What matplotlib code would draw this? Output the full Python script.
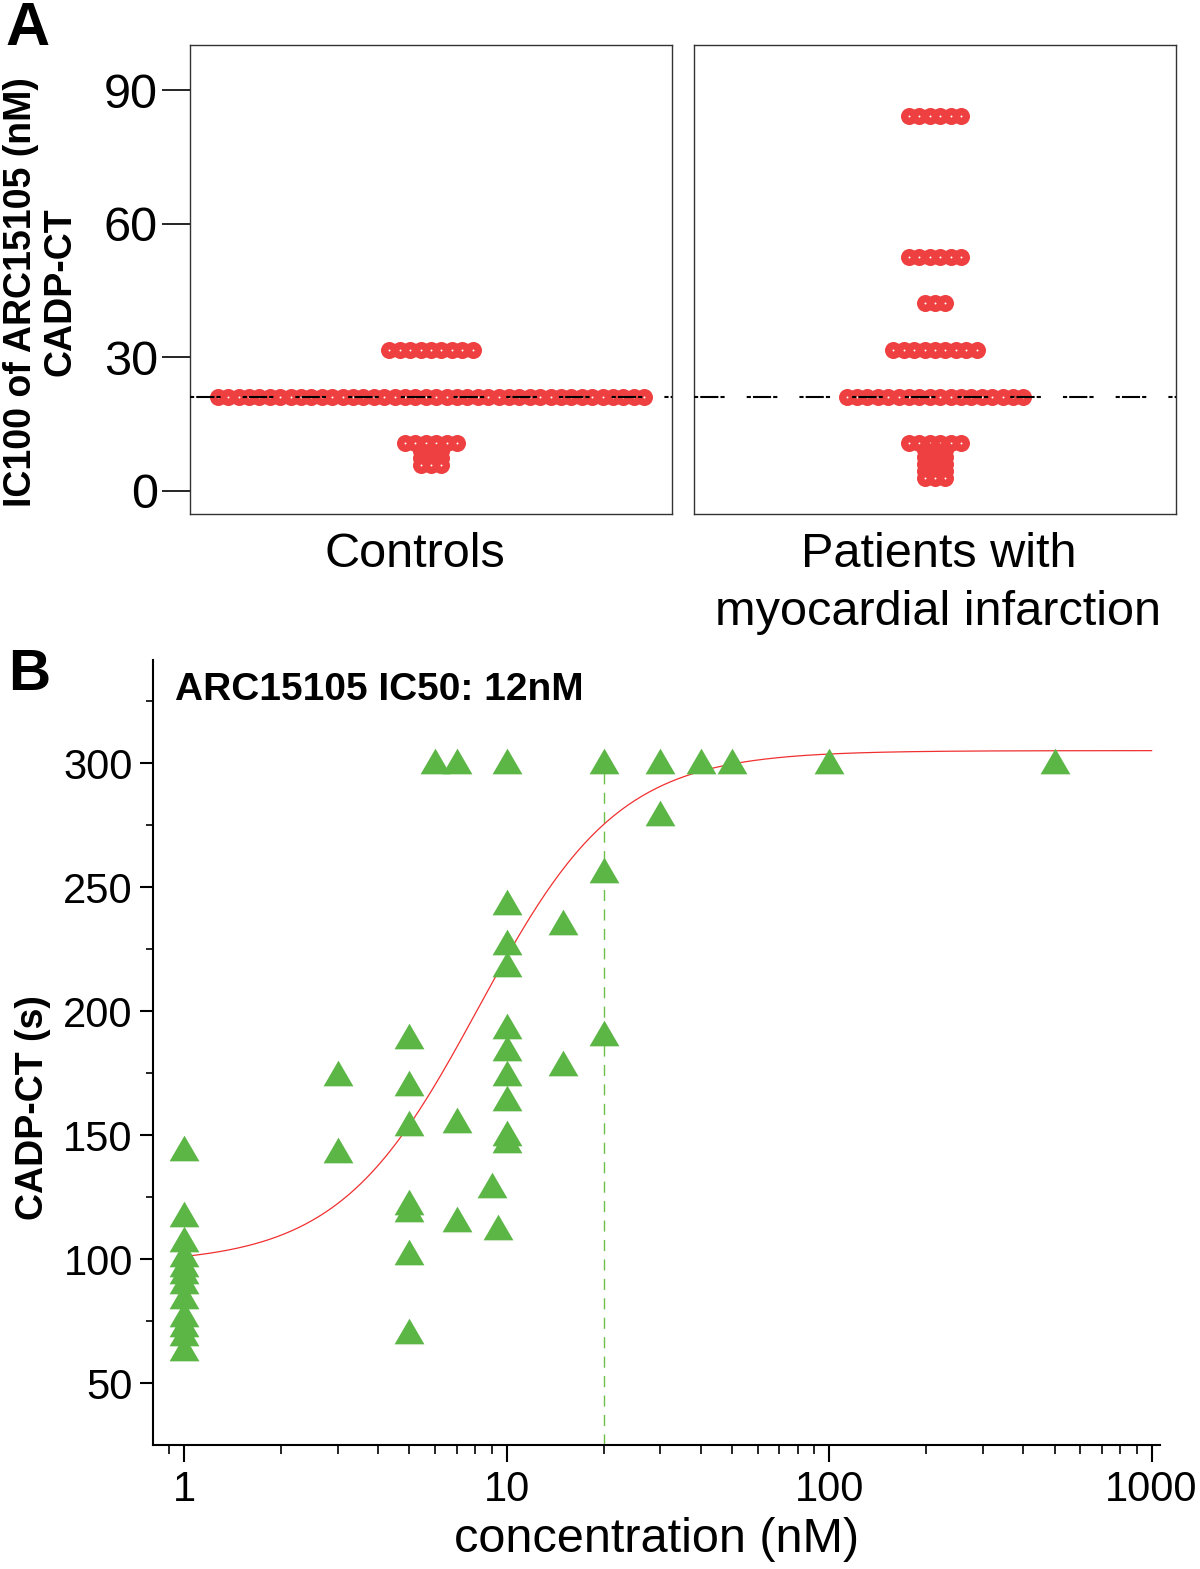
import numpy as np
import matplotlib.pyplot as plt
from matplotlib.ticker import FixedLocator, LogLocator, NullFormatter

plt.rcParams['font.family'] = ['Liberation Sans', 'DejaVu Sans']

# ---- panel A: IC100 per subject (dot rows, value and number of dots) ----
ctrl_values = [31.6, 21.1, 10.8, 9.0, 7.4, 5.9]
ctrl_counts = [9, 42, 6, 3, 3, 3]
mi_values = [84.2, 52.5, 42.2, 31.6, 21.1, 10.8, 9.2, 7.6, 6.0, 4.4, 2.8]
mi_counts = [6, 6, 3, 9, 18, 6, 3, 3, 3, 3, 3]
cutoff = 21.1
a_yticks = [0, 30, 60, 90]
group_names = ['Controls', 'Patients with\nmyocardial infarction']

# ---- panel B: CADP-CT vs concentration ----
conc_nM = [1] * 12 + [3] * 2 + [5] * 7 + [7] * 2 + [9, 9.4] + [10] * 9 + [15] * 2 + [20] * 2 + [30] \
    + [6, 7, 10, 20, 30, 40, 50, 100, 500]
cadp_s = [144.6, 118, 108, 102, 98, 95, 91, 85, 78, 74, 70, 64,
          175, 144,
          190, 171, 155, 123, 120, 103, 71,
          156, 116,
          130, 113,
          244, 228, 219, 194, 185, 175, 165, 151, 148,
          236, 179,
          257, 191,
          280,
          301, 301, 301, 301, 301, 301, 301, 301, 301]
# fitted dose-response curve (4PL), parameters
fit_bottom, fit_top, fit_ic50, fit_hill = 98, 305, 8.2, 2.0
ic50_marker = 20

red = '#EE4040'
green = '#5CB646'

fig = plt.figure(figsize=(12, 15.69), dpi=100)

ax_c = fig.add_axes([0.1583, 0.6724, 0.4017, 0.2989])
ax_p = fig.add_axes([0.5783, 0.6724, 0.4017, 0.2989])


def dot_rows(ax, values, counts):
    for i, (v, n) in enumerate(zip(values, counts)):
        xs = np.arange(n) - (n - 1) / 2
        ax.scatter(xs, [v] * n, s=150, color=red, linewidths=0, zorder=2 + i * 0.01)
        ax.scatter(xs, [v] * n, s=2, color='white', linewidths=0, zorder=2.005 + i * 0.01)


label_x = [0.467, 0.507]
for ax, vals, cnts, name, lx in [(ax_c, ctrl_values, ctrl_counts, group_names[0], label_x[0]),
                                 (ax_p, mi_values, mi_counts, group_names[1], label_x[1])]:
    dot_rows(ax, vals, cnts)
    ax.axhline(cutoff, color='black', lw=1.5, dashes=(2, 1, 8.7, 1, 2, 10.6), zorder=5)
    ax.set_xlim(-23.17, 23.17)
    ax.set_ylim(-5.2, 100.1)
    ax.set_xticks([])
    for s in ax.spines.values():
        s.set_linewidth(1.0)
        s.set_color('#333333')
    ax.text(lx, -0.038, name, transform=ax.transAxes, ha='center', va='top',
            fontsize=35, linespacing=1.38)

ax_c.set_yticks(a_yticks)
ax_c.tick_params(axis='y', length=20, width=1.2, labelsize=35, pad=3)
ax_p.set_yticks([])

fig.text(0.034, 0.814, 'IC100 of ARC15105 (nM)\nCADP-CT', rotation=90, ha='center', va='center',
         fontsize=27, fontweight='bold', multialignment='center', linespacing=1.1)
fig.text(5 / 1200, 1 - 45 / 1569, 'A', fontsize=44, fontweight='bold', va='baseline')

# ---- panel B ----
ax_b = fig.add_axes([0.1275, 0.0790, 0.8392, 0.5003])
tri = [(-1, -0.86), (1, -0.86), (0, 0.86)]
xfit = np.logspace(0, 3, 400)
yfit = fit_bottom + (fit_top - fit_bottom) / (1 + (fit_ic50 / xfit) ** fit_hill)
ax_b.plot(xfit, yfit, color='#F03030', lw=0.9, zorder=2)
ax_b.plot([ic50_marker, ic50_marker], [25, 300], color='#6CC04A', lw=1.0, dashes=(8, 6), zorder=1)
ax_b.scatter(conc_nM, cadp_s, marker=tri, s=21.5 ** 2, color=green, linewidths=0, zorder=3)

ax_b.set_xscale('log')
ax_b.set_xlim(0.8015, 1062)
ax_b.set_ylim(25, 341.5)
ax_b.set_xticks([1, 10, 100, 1000])
ax_b.set_xticklabels(['1', '10', '100', '1000'])
ax_b.xaxis.set_minor_locator(LogLocator(base=10, subs=range(2, 10)))
ax_b.xaxis.set_minor_formatter(NullFormatter())
ax_b.set_yticks([50, 100, 150, 200, 250, 300])
ax_b.yaxis.set_minor_locator(FixedLocator([75, 125, 175, 225, 275, 325]))
ax_b.spines['top'].set_visible(False)
ax_b.spines['right'].set_visible(False)
ax_b.spines['left'].set_linewidth(1.5)
ax_b.spines['bottom'].set_linewidth(1.5)
ax_b.tick_params(axis='x', which='major', length=12, width=1.5, labelsize=30, pad=6)
ax_b.tick_params(axis='x', which='minor', length=6.5, width=1.2)
ax_b.tick_params(axis='y', which='major', length=9.5, width=1.5, labelsize=30, pad=5)
ax_b.tick_params(axis='y', which='minor', length=5, width=1.2)
ax_b.set_xlabel('concentration (nM)', fontsize=35, labelpad=5)

ax_b.text(0.0218, 0.949, 'ARC15105 IC50: 12nM', transform=ax_b.transAxes,
          fontsize=28, fontweight='bold', va='baseline')
fig.text(0.0275, 0.2938, 'CADP-CT (s)', rotation=90, ha='center', va='center',
         fontsize=27, fontweight='bold')
fig.text(8 / 1200, 1 - 690 / 1569, 'B', fontsize=42, fontweight='bold', va='baseline')

fig.savefig('out.png', dpi=100)
